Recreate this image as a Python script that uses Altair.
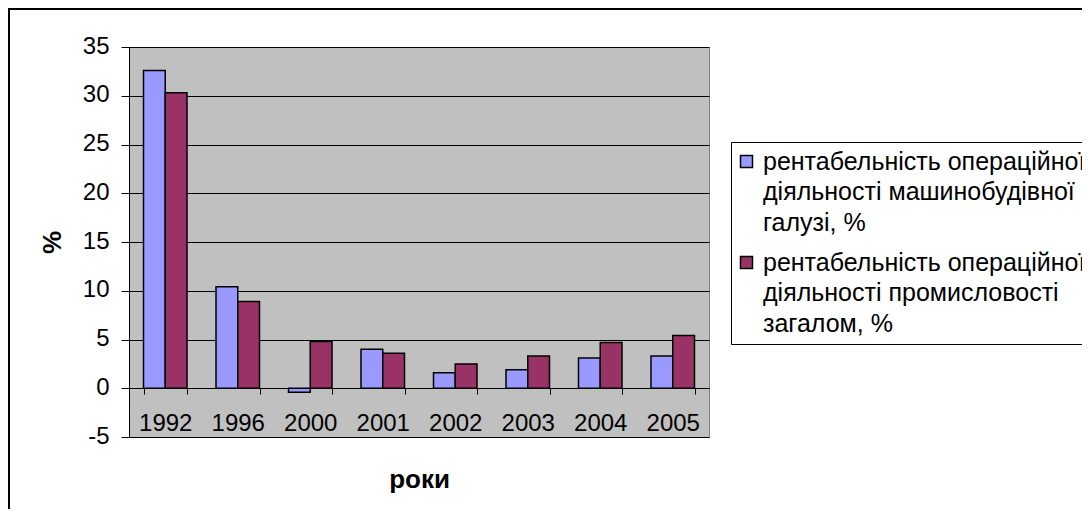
import altair as alt
import pandas as pd

years = ["1992", "1996", "2000", "2001", "2002", "2003", "2004", "2005"]
machine = [32.6, 10.4, -0.4, 4.0, 1.6, 1.9, 3.1, 3.3]
industry = [30.3, 8.9, 4.8, 3.6, 2.5, 3.3, 4.7, 5.4]
series = [
    "рентабельність операційної|діяльності машинобудівної|галузі, %",
    "рентабельність операційної|діяльності промисловості|загалом, %",
]
colors = ["#9999FF", "#993366"]

rows = []
for i, y in enumerate(years):
    rows.append({"year": y, "series": series[0], "value": machine[i]})
    rows.append({"year": y, "series": series[1], "value": industry[i]})
df = pd.DataFrame(rows)

FONT = "Liberation Sans"
DY = 8

bars = alt.Chart(df).mark_bar(stroke="black", strokeWidth=1.5).encode(
    x=alt.X(
        "year:N",
        sort=years,
        scale=alt.Scale(paddingInner=0.4, paddingOuter=0.2),
        axis=alt.Axis(
            orient="bottom", offset=-49, labelAngle=0, tickBand="extent",
            tickSize=6, tickColor="black", domainColor="black",
            labelFontSize=24, labelPadding=17 - DY, labelColor="black", labelFont=FONT,
            title="роки", titleFontSize=26, titleFontWeight="bold",
            titleColor="black", titleFont=FONT, titlePadding=31,
        ),
    ),
    xOffset=alt.XOffset("series:N", sort=series, scale=alt.Scale(paddingInner=0, paddingOuter=0)),
    y=alt.Y(
        "value:Q",
        scale=alt.Scale(domain=[-5, 35], nice=False),
        axis=alt.Axis(
            values=list(range(-5, 40, 5)), grid=True, gridColor="black", gridWidth=1,
            domainColor="black", tickColor="black", tickSize=8,
            labelExpr="'' + datum.value", labelOffset=-DY - 1,
            labelFontSize=24, labelPadding=12, labelColor="black", labelFont=FONT,
            title="%", titleFontSize=26, titleFontWeight="bold", titleColor="black",
            titleFont=FONT, titlePadding=17,
        ),
    ),
    color=alt.Color(
        "series:N",
        sort=series,
        scale=alt.Scale(domain=series, range=colors),
        legend=alt.Legend(
            title=None, orient="none", legendX=602, legendY=95,
            labelExpr="split(datum.label, '|')",
            labelFontSize=25, labelFont=FONT, labelColor="black", labelLimit=1000,
            labelOffset=4, labelBaseline="alphabetic",
            symbolType="square", symbolSize=144, symbolStrokeColor="black",
            symbolStrokeWidth=1.5, symbolOpacity=1, symbolOffset=-4,
            strokeColor="black", fillColor="white", padding=7, rowPadding=14,
        ),
    ),
)

frame = alt.Chart(pd.DataFrame({"k": [0]})).mark_rect(
    fill="transparent", stroke="black", strokeWidth=2
).encode(
    x=alt.value(-120), x2=alt.value(600 + 373), y=alt.value(-38), y2=alt.value(390 + 90)
)

chart = alt.layer(frame, bars).properties(
    width=580, height=390,
    autosize=alt.AutoSizeParams(type="none"),
    padding={"left": 121, "top": 39, "right": 373, "bottom": 72},
).configure(
    background="white",
    view=alt.ViewConfig(fill="#C0C0C0", stroke="#808080", strokeWidth=1),
    style={"guide-label": {"lineHeight": 30.5, "dy": DY}},
)

chart.save("out.html", embed_options={"renderer": "svg", "actions": False})
